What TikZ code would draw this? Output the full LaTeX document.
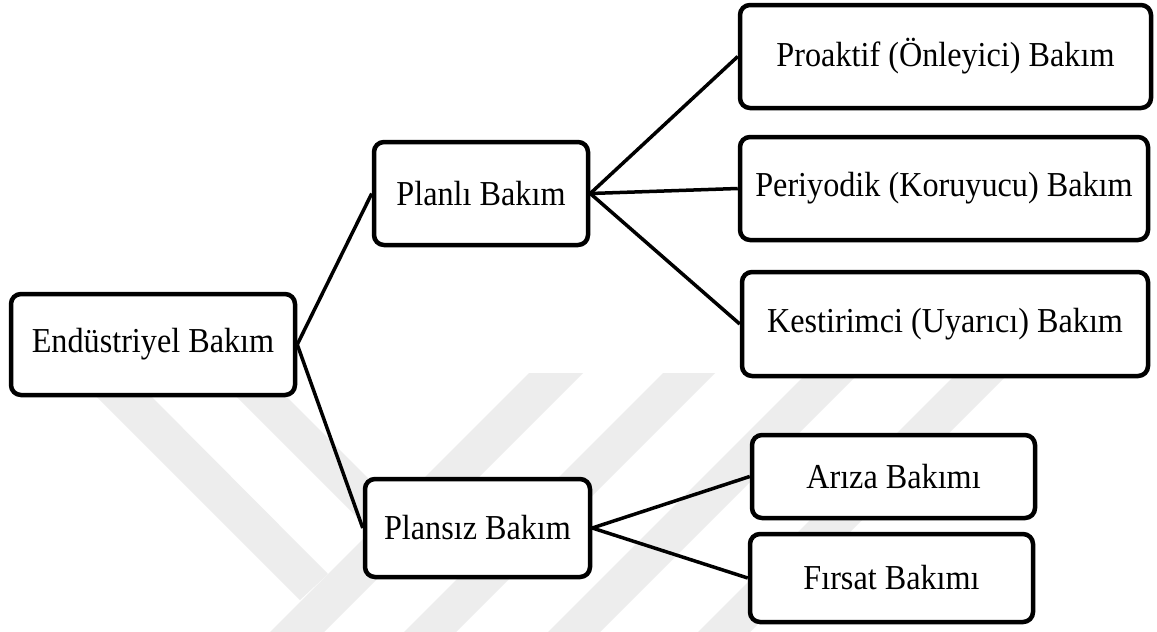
\documentclass[tikz,border=0pt]{standalone}
\usepackage{fontspec}
\setmainfont{Liberation Serif}[FakeStretch=0.92]
\begin{document}
\begin{tikzpicture}[x=1pt,y=-1pt,
  box/.style={draw=black, line width=4.5pt, rounded corners=10pt, fill=white,
    align=center, inner sep=0pt, font=\fontsize{35}{40}\selectfont},
  link/.style={draw=black, line width=3.5pt},
  wmband/.style={fill=black!7, draw=none}]
\fill[white] (0,0) rectangle (1157,632);
\useasboundingbox (0,0) rectangle (1157,632);

% faint background emblem: diagonal bands
\begin{scope}
\clip (0,0) rectangle (1157,632);
\fill[wmband] (80,380) -- (135,380) -- (328,574) -- (300,600) -- cycle;
\fill[wmband] (220,380) -- (270,380) -- (396,506) -- (371,531) -- cycle;
\fill[wmband] (529,373) -- (583,373) -- (324,632) -- (270,632) -- cycle;
\fill[wmband] (663,373) -- (715,373) -- (456,632) -- (404,632) -- cycle;
\fill[wmband] (807,373) -- (859,373) -- (600,632) -- (548,632) -- cycle;
\fill[wmband] (957,373) -- (1009,373) -- (750,632) -- (698,632) -- cycle;
\end{scope}

% boxes
\node[box, minimum width=284pt, minimum height=101pt] (ind) at (153,344.5) {Endüstriyel Bakım};
\node[box, minimum width=214pt, minimum height=103pt] (plan) at (481,193.5) {Planlı Bakım};
\node[box, minimum width=225pt, minimum height=98pt] (unplan) at (477.5,528) {Plansız Bakım};
\node[box, minimum width=411pt, minimum height=103pt] (proact) at (945.5,56.5) {Proaktif (Önleyici) Bakım};
\node[box, minimum width=408pt, minimum height=103pt] (period) at (944,188.5) {Periyodik (Koruyucu) Bakım};
\node[box, minimum width=406pt, minimum height=104pt] (predict) at (945,324) {Kestirimci (Uyarıcı) Bakım};
\node[box, minimum width=283pt, minimum height=83pt] (fault) at (893.5,476.5) {Arıza Bakımı};
\node[box, minimum width=283pt, minimum height=88pt] (chance) at (891.5,578) {Fırsat Bakımı};

% connectors
\draw[link] (ind.east) -- (plan.west);
\draw[link] (ind.east) -- (unplan.west);
\draw[link] (plan.east) -- (proact.west);
\draw[link] (plan.east) -- (period.west);
\draw[link] (plan.east) -- (predict.west);
\draw[link] (unplan.east) -- (fault.west);
\draw[link] (unplan.east) -- (chance.west);
\end{tikzpicture}
\end{document}
